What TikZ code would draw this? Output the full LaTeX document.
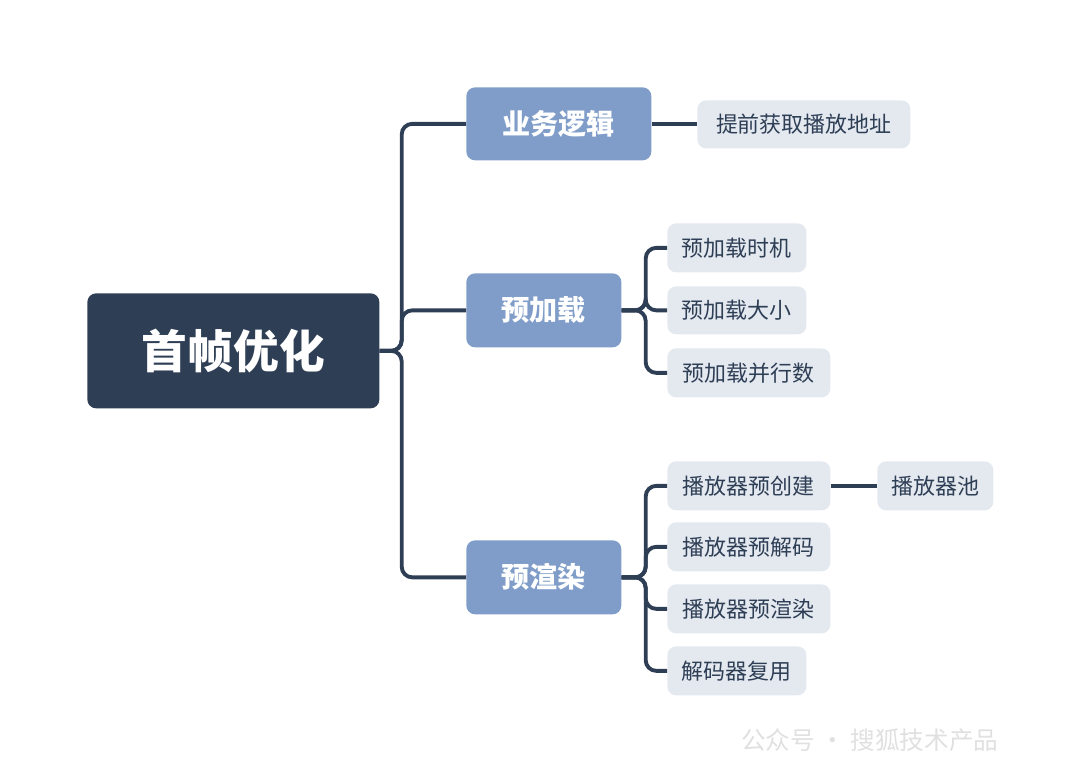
\documentclass[tikz,border=0pt]{standalone}
\usepackage{fontspec}
\setmainfont{Noto Sans CJK SC}
\begin{document}
\begin{tikzpicture}[x=0.02cm,y=-0.02cm,
 box/.style={rounded corners=5pt,inner sep=0pt,anchor=north west},
 root/.style={box,fill=dark,text=white,font=\fontsize{26}{30}\selectfont\bfseries},
 mid/.style={box,fill=midb,text=white,font=\fontsize{16}{20}\selectfont\bfseries},
 leaf/.style={box,fill=leafc,text=dark,font=\fontsize{12.5}{15}\selectfont},
 con/.style={draw=dark,line width=2.2pt,rounded corners=6pt}]
\definecolor{dark}{HTML}{2E3E55}
\definecolor{midb}{HTML}{7F9DC8}
\definecolor{leafc}{HTML}{E4E9F0}
\useasboundingbox (0,0) rectangle (1080,783);
\newcommand{\bx}[6]{\node[#1,minimum width=#4*0.02cm-#2*0.02cm,minimum height=#5*0.02cm-#3*0.02cm] (#6) at (#2,#3) {};}
\bx{root}{87}{293}{379}{408}{r}
\node[text=white,font=\fontsize{26}{30}\selectfont\bfseries] at (r.center) {首帧优化};
\bx{mid}{466}{87}{651}{160}{a}\node[text=white,font=\fontsize{16}{20}\selectfont\bfseries] at (a.center) {业务逻辑};
\bx{mid}{466}{273}{621}{347}{b}\node[text=white,font=\fontsize{16}{20}\selectfont\bfseries] at (b.center) {预加载};
\bx{mid}{466}{540}{621}{614}{c}\node[text=white,font=\fontsize{16}{20}\selectfont\bfseries] at (c.center) {预渲染};
\newcommand{\lf}[6]{\bx{leaf}{#1}{#2}{#3}{#4}{#5}\node[text=dark,font=\fontsize{12.5}{15}\selectfont] at (#5.center) {#6};}
\lf{697}{100}{910}{148}{a1}{提前获取播放地址}
\lf{667}{223}{806}{272}{b1}{预加载时机}
\lf{667}{286}{806}{334}{b2}{预加载大小}
\lf{667}{348}{830}{397}{b3}{预加载并行数}
\lf{667}{461}{830}{510}{c1}{播放器预创建}
\lf{877}{461}{993}{510}{c5}{播放器池}
\lf{667}{522}{830}{571}{c2}{播放器预解码}
\lf{667}{584}{830}{633}{c3}{播放器预渲染}
\lf{667}{646}{806}{695}{c4}{解码器复用}
\foreach \t in {a,b,c} \draw[con] (r.east) -- ++(22,0) |- (\t.west);
\draw[con] (a.east) -- (a.east -| a1.west);
\foreach \t in {b1,b2,b3} \draw[con] (b.east) -- ++(24,0) |- (\t.west);
\foreach \t in {c1,c2,c3,c4} \draw[con] (c.east) -- ++(24,0) |- (\t.west);
\draw[con] (c1.east) -- (c5.west);
\node[text=black!12,font=\fontsize{14}{16}\selectfont,anchor=west] (w) at (735,740) {公众号 · 搜狐技术产品};
\end{tikzpicture}
\end{document}
